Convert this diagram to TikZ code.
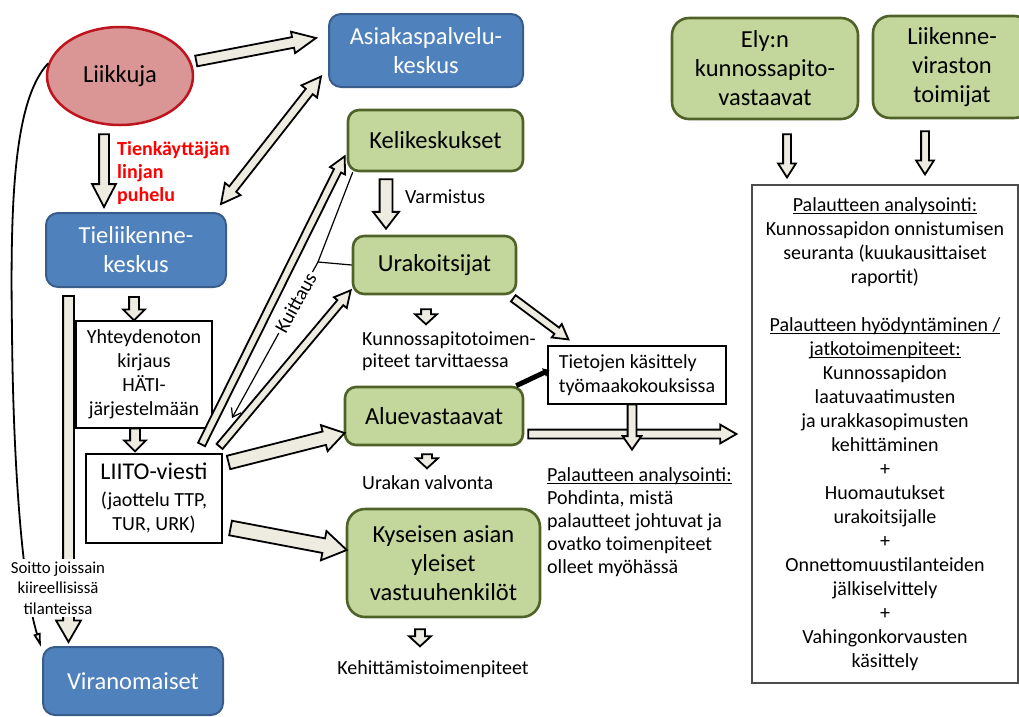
\documentclass[tikz,border=0pt]{standalone}
\usepackage{fontspec}
\setmainfont{Carlito}
\usetikzlibrary{shapes.geometric, shapes.arrows, arrows.meta, positioning, calc}
\definecolor{cBlue}{RGB}{79,129,189}
\definecolor{cBlueDark}{RGB}{56,93,138}
\definecolor{cGreen}{RGB}{195,214,155}
\definecolor{cGreenDark}{RGB}{79,98,40}
\definecolor{cRose}{RGB}{217,150,148}
\definecolor{cRoseDark}{RGB}{190,20,30}
\definecolor{cArrow}{RGB}{238,236,225}
\tikzset{
	bluebox/.style ={rectangle, rounded corners=12pt, draw=cBlueDark, line width=2pt, fill=cBlue, text=white, align=center, font=\fontsize{24.5}{29}\selectfont},
	greenbox/.style={rectangle, rounded corners=11pt, draw=cGreenDark, line width=2.6pt, fill=cGreen, align=center, font=\fontsize{24.5}{29}\selectfont},
	txtbox/.style  ={rectangle, draw=black, line width=1.1pt, fill=white, align=center, font=\fontsize{20}{24}\selectfont},
	lbl/.style     ={align=left, inner sep=0pt, font=\fontsize{20}{24}\selectfont},
	% hollow block arrows
	blkarrow/.style ={single arrow, draw=black, fill=cArrow, line width=1.8pt, inner xsep=0pt, outer sep=0pt, minimum width=0pt, single arrow tip angle=60},
	blkdarrow/.style={double arrow, draw=black, fill=cArrow, line width=1.8pt, inner xsep=0pt, outer sep=0pt, minimum width=0pt, double arrow tip angle=55},
	thinarrow/.style={-{Straight Barb[length=8pt, width=11pt]}, line width=1.2pt},
}
% block arrow from #2 to #3, shaft width #4, head width #5
\newcommand{\barrow}[5][]{%
	\path let \p1=(#2), \p2=(#3), \n1={atan2(\y2-\y1,\x2-\x1)}, \n2={veclen(\x2-\x1,\y2-\y1)} in
		node[blkarrow, #1, anchor=tail, rotate=\n1, minimum height=\n2, inner ysep=#4/2, single arrow head extend={(#5-#4)/2}] at (\p1) {};}
\newcommand{\bdarrow}[5][]{%
	\path let \p1=(#2), \p2=(#3), \n1={atan2(\y2-\y1,\x2-\x1)}, \n2={veclen(\x2-\x1,\y2-\y1)} in
		node[blkdarrow, #1, anchor=center, rotate=\n1, minimum height=\n2, inner ysep=#4/2, double arrow head extend={(#5-#4)/2}] at ($(\p1)!0.5!(\p2)$) {};}
\newcommand{\ulinetext}[1]{\setbox0=\hbox{#1}\rlap{\rule[-2.6pt]{\wd0}{1.2pt}}\box0}

\begin{document}
\begin{tikzpicture}[x=1pt, y=-1pt]
	\useasboundingbox (0,0) rectangle (1019,716);
	\clip (0,0) rectangle (1019,716);
	% left column
	\node[ellipse, draw=cRoseDark, fill=cRose, line width=2.5pt, minimum width=146pt, minimum height=98pt, font=\fontsize{24.5}{29}\selectfont] (liik) at (120,76) {Liikkuja};
	\node[bluebox, minimum width=180pt, minimum height=74pt] (tiel) at (136,250) {Tieliikenne-\\keskus};
	\node[txtbox, minimum width=136pt, minimum height=107pt, inner sep=2pt] (yht) at (144,374.5) {Yhteydenoton\\kirjaus\\HÄTI-\\järjestelmään};
	\node[txtbox, minimum width=136pt, minimum height=89pt] (liito) at (154,498.5) {{\fontsize{24}{28}\selectfont LIITO-viesti}\\[3pt](jaottelu TTP,\\TUR, URK)};
	\node[bluebox, minimum width=180pt, minimum height=68pt] (viran) at (133,681) {Viranomaiset};
	% middle column
	\node[bluebox, minimum width=194pt, minimum height=73pt] (asiak) at (426,50.5) {Asiakaspalvelu-\\keskus};
	\node[greenbox, minimum width=175pt, minimum height=61pt] (keli) at (435.5,140.5) {Kelikeskukset};
	\node[greenbox, minimum width=163pt, minimum height=58pt] (urak) at (434.5,265) {Urakoitsijat};
	\node[greenbox, minimum width=178pt, minimum height=58pt] (alue) at (434,416) {Aluevastaavat};
	\node[greenbox, rounded corners=18pt, minimum width=193pt, minimum height=108pt] (kys) at (443.5,563) {Kyseisen asian\\yleiset\\vastuuhenkilöt};
	\node[txtbox, align=left, minimum width=178pt, minimum height=58pt] (tiet) at (637,375) {Tietojen käsittely\\työmaakokouksissa};
	% right column
	\node[greenbox, rounded corners=17pt, minimum width=186pt, minimum height=101pt] (ely) at (765,68.5) {Ely:n\\kunnossapito-\\vastaavat};
	\node[greenbox, rounded corners=17pt, minimum width=158pt, minimum height=102pt] (liikv) at (952,67) {Liikenne-\\viraston\\toimijat};
	\node[txtbox, draw=black!70, minimum width=266pt, minimum height=498pt] (anal) at (885,434) {\ulinetext{Palautteen analysointi:}\\ Kunnossapidon onnistumisen\\ seuranta (kuukausittaiset\\ raportit)\\[24pt] \ulinetext{Palautteen hyödyntäminen /}\\ \ulinetext{jatkotoimenpiteet:}\\ Kunnossapidon\\ laatuvaatimusten\\ ja urakkasopimusten\\ kehittäminen\\ +\\ Huomautukset\\ urakoitsijalle\\ +\\ Onnettomuustilanteiden\\ jälkiselvittely\\ +\\ Vahingonkorvausten\\ käsittely};
	% free labels
	\node[lbl, anchor=west, text=red, font=\bfseries\fontsize{20}{23}\selectfont] (puhelu) at (117,173) {Tienkäyttäjän\\linjan\\puhelu};
	\node[lbl, anchor=west] (varm) at (405,197) {Varmistus};
	\node[lbl, anchor=west, font=\fontsize{20}{22}\selectfont] (kunn) at (362,351) {Kunnossapitotoimen-\\piteet tarvittaessa};
	\node[lbl, anchor=west] (valv) at (362,483) {Urakan valvonta};
	\node[lbl, anchor=west, font=\fontsize{20}{23}\selectfont] (pohd) at (547,522) {\ulinetext{Palautteen analysointi:}\\Pohdinta, mistä\\palautteet johtuvat ja\\ovatko toimenpiteet\\olleet myöhässä};
	\node[lbl] (kehit) at (433,669) {Kehittämistoimenpiteet};
	% block arrows
	\barrow[single arrow tip angle=50]{[shift={(2,-15)}]liik.east}{[shift={(-12,-12.5)}]asiak.west}{9pt}{20pt}
	\bdarrow{[shift={(-6,-8)}]tiel.north east}{[shift={(-7,-11.5)}]asiak.south west}{7pt}{18pt}
	\barrow[single arrow tip angle=55]{[shift={(-16,8)}]liik.south}{[shift={(-32,-5)}]tiel.north}{8pt}{22pt}
	\barrow{[shift={(-67.5,8)}]tiel.south}{[shift={(-64.5,-4)}]viran.north}{9pt}{23pt}
	\barrow[single arrow tip angle=90]{[shift={(-2,9)}]tiel.south}{[shift={(-10,0)}]yht.north}{8pt}{20pt}
	\barrow[single arrow tip angle=90]{[shift={(-9,0)}]yht.south}{[shift={(-19,-2)}]liito.north}{8pt}{20pt}
	\barrow[single arrow tip angle=75]{[shift={(-49.5,7)}]keli.south}{[shift={(-48.5,-6)}]urak.north}{11pt}{24pt}
	\barrow[single arrow tip angle=95]{[shift={(-8.5,14)}]urak.south}{[shift={(-8.5,29)}]urak.south}{8pt}{20pt}
	\barrow[single arrow tip angle=55]{[shift={(-21,-9)}]liito.north east}{[shift={(-2,-16)}]keli.south west}{6pt}{15pt}
	\barrow[single arrow tip angle=55]{[shift={(-3,-7)}]liito.north east}{[shift={(-1,-5)}]urak.south west}{6pt}{15pt}
	\barrow[single arrow tip angle=65]{[shift={(6,9)}]liito.north east}{[shift={(1,17)}]alue.west}{12pt}{25pt}
	\barrow[single arrow tip angle=65]{[shift={(8,29.5)}]liito.east}{[shift={(1,-13)}]kys.west}{13pt}{28pt}
	\barrow{[shift={(-4,3)}]urak.south east}{[shift={(21,-6)}]tiet.north west}{6pt}{15pt}
	\barrow{[shift={(4,18)}]alue.east}{[shift={(-15,0)}]anal.west}{7pt}{17pt}
	\barrow[single arrow tip angle=70]{[shift={(-5,0)}]tiet.south}{[shift={(-5,45)}]tiet.south}{7pt}{17pt}
	\barrow[single arrow tip angle=95]{[shift={(-7,8)}]alue.south}{[shift={(-7,22)}]alue.south}{8pt}{20pt}
	\barrow[single arrow tip angle=95]{[shift={(-23.5,11)}]kys.south}{[shift={(-23.5,28)}]kys.south}{8pt}{20pt}
	\barrow[single arrow tip angle=65]{[shift={(22,14)}]ely.south}{[shift={(-98,-7)}]anal.north}{6pt}{16pt}
	\barrow[single arrow tip angle=65]{[shift={(-27,12)}]liikv.south}{[shift={(40,-10)}]anal.north}{6pt}{16pt}
	% thin connectors
	\draw[line width=5pt, -{Triangle[length=6pt, width=9pt]}] ([xshift=-8pt]alue.north east) -- ([shift={(2,-5)}]tiet.west);
	\coordinate (kj) at (318,262);
	\coordinate (kend) at (232,418);
	\draw[line width=1.2pt] ([xshift=6pt]keli.south west) -- (kj) -- (urak.west);
	\draw[thinarrow] (kj) -- node[lbl, sloped, pos=0.26, fill=white, inner sep=2pt] {Kuittaus} (kend);
	\draw[line width=1.8pt, -{Triangle[open, length=14pt, width=7pt]}] (liik.170) .. controls (14,100) and (10,200) .. (12,330) .. controls (13,460) and (22,585) .. ([shift={(-1,1)}]viran.north west);
	\node[lbl, align=center, fill=white, inner sep=3pt, font=\fontsize{16.8}{20.5}\selectfont] (soitto) at (58,588) {Soitto joissain\\kiireellisissä\\tilanteissa};
\end{tikzpicture}
\end{document}
